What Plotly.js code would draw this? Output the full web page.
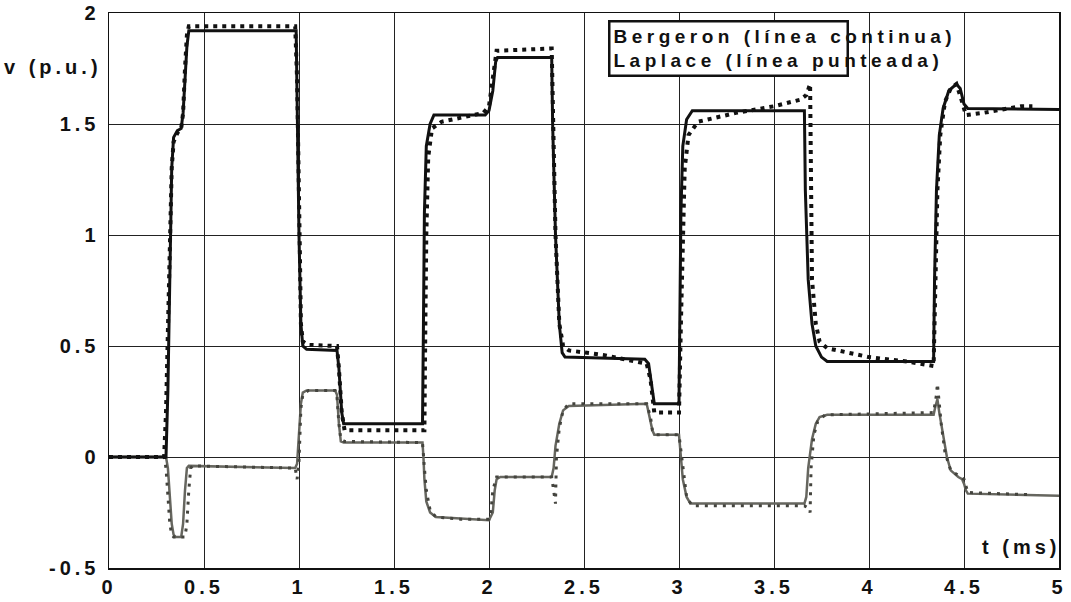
<!DOCTYPE html>
<html>
<head>
<meta charset="utf-8">
<script src="https://cdn.plot.ly/plotly-3.0.1.min.js"></script>
<style>
  html, body { margin: 0; padding: 0; background: #fff; }
  #chart { width: 1071px; height: 602px; }
  .main-svg text { letter-spacing: 4px; }
  .main-svg g.annotation[data-index="2"] text { letter-spacing: 4.5px; }
</style>
</head>
<body>
<div id="chart"></div>
<script>
// Bergeron, upper node (black solid)
const bergeronA_t = [0,0.30,0.31,0.32,0.33,0.34,0.36,0.38,0.39,0.41,0.42,0.985,0.99,1.0,1.01,1.02,1.04,1.20,1.21,1.225,1.235,1.65,1.655,1.66,1.67,1.69,1.71,1.98,2.00,2.02,2.035,2.045,2.33,2.335,2.35,2.37,2.385,2.40,2.82,2.84,2.86,2.87,3.0,3.005,3.01,3.02,3.04,3.07,3.66,3.665,3.68,3.70,3.72,3.75,3.78,4.34,4.345,4.355,4.37,4.39,4.42,4.46,4.48,4.50,4.52,5.0];
const bergeronA_v = [0,0,0.3,0.9,1.3,1.44,1.47,1.48,1.55,1.85,1.92,1.92,1.6,1.0,0.6,0.50,0.485,0.48,0.4,0.2,0.15,0.15,0.6,1.1,1.4,1.5,1.54,1.54,1.56,1.65,1.78,1.80,1.80,1.5,1.0,0.6,0.47,0.45,0.44,0.42,0.3,0.24,0.24,0.6,1.1,1.4,1.52,1.56,1.56,1.2,0.8,0.6,0.5,0.45,0.43,0.43,0.8,1.2,1.45,1.57,1.65,1.68,1.66,1.59,1.57,1.565];

// Laplace, upper node (black dotted)
const laplaceA_t = [0,0.29,0.30,0.31,0.32,0.33,0.34,0.36,0.38,0.39,0.40,0.41,0.42,0.98,0.99,1.0,1.005,1.01,1.02,1.05,1.20,1.21,1.225,1.24,1.66,1.665,1.67,1.68,1.70,1.75,1.85,1.97,2.0,2.02,2.04,2.33,2.34,2.35,2.37,2.39,2.42,2.60,2.83,2.85,2.87,3.0,3.01,3.02,3.03,3.05,3.1,3.3,3.5,3.64,3.67,3.69,3.695,3.70,3.72,3.74,3.78,4.0,4.20,4.34,4.35,4.36,4.375,4.40,4.43,4.46,4.49,4.51,4.6,4.8,4.86];
const laplaceA_v = [0,0,0.2,0.6,1.0,1.3,1.42,1.46,1.48,1.55,1.75,1.9,1.94,1.94,1.7,1.3,0.9,0.6,0.52,0.505,0.50,0.4,0.2,0.12,0.12,0.6,1.0,1.35,1.48,1.51,1.53,1.55,1.58,1.70,1.83,1.84,1.5,1.0,0.6,0.50,0.48,0.46,0.42,0.35,0.20,0.20,0.6,1.0,1.3,1.45,1.51,1.55,1.58,1.61,1.63,1.68,1.2,0.8,0.6,0.52,0.49,0.45,0.43,0.41,0.8,1.2,1.45,1.6,1.66,1.68,1.6,1.54,1.55,1.58,1.58];

// Bergeron, lower node (grey solid)
const bergeronB_t = [0,0.30,0.31,0.32,0.33,0.34,0.35,0.38,0.39,0.40,0.41,0.42,0.98,0.99,1.0,1.01,1.02,1.04,1.19,1.20,1.21,1.22,1.235,1.65,1.655,1.66,1.67,1.69,1.72,1.8,2.0,2.02,2.03,2.04,2.06,2.33,2.34,2.35,2.37,2.39,2.42,2.83,2.84,2.86,2.87,3.0,3.01,3.02,3.04,3.06,3.66,3.67,3.68,3.70,3.72,3.74,3.78,4.34,4.35,4.36,4.37,4.39,4.41,4.43,4.47,4.49,4.50,4.51,4.52,5.0];
const bergeronB_v = [0,0,-0.05,-0.2,-0.3,-0.35,-0.36,-0.36,-0.3,-0.15,-0.05,-0.04,-0.05,-0.03,0.1,0.24,0.29,0.30,0.30,0.28,0.15,0.07,0.065,0.065,0.0,-0.1,-0.2,-0.25,-0.27,-0.275,-0.285,-0.25,-0.15,-0.10,-0.09,-0.09,-0.05,0.05,0.15,0.21,0.23,0.24,0.2,0.12,0.10,0.10,0.0,-0.10,-0.18,-0.21,-0.21,-0.18,-0.05,0.08,0.15,0.18,0.19,0.19,0.23,0.26,0.20,0.10,0.0,-0.06,-0.09,-0.10,-0.12,-0.15,-0.165,-0.175];

// Laplace, lower node (grey dotted)
const laplaceB_t = [0,0.29,0.30,0.31,0.32,0.33,0.34,0.40,0.41,0.42,0.43,0.44,0.98,0.99,1.0,1.005,1.01,1.02,1.05,1.19,1.20,1.21,1.22,1.24,1.65,1.66,1.67,1.69,1.72,1.85,2.0,2.01,2.02,2.04,2.33,2.34,2.35,2.355,2.37,2.39,2.42,2.83,2.85,2.86,2.88,3.0,3.02,3.04,3.07,3.66,3.68,3.69,3.695,3.71,3.73,3.77,4.34,4.355,4.36,4.38,4.40,4.43,4.5,4.52,4.86];
const laplaceB_v = [0,0,-0.05,-0.2,-0.3,-0.35,-0.36,-0.36,-0.3,-0.15,-0.05,-0.04,-0.05,-0.1,-0.02,0.1,0.22,0.28,0.30,0.30,0.27,0.15,0.08,0.07,0.065,-0.05,-0.15,-0.24,-0.27,-0.28,-0.28,-0.25,-0.15,-0.09,-0.09,-0.15,-0.21,0.0,0.13,0.21,0.24,0.24,0.18,0.12,0.10,0.10,-0.05,-0.18,-0.22,-0.22,-0.23,-0.25,-0.05,0.1,0.16,0.19,0.20,0.28,0.33,0.15,0.02,-0.06,-0.1,-0.16,-0.17];

const xTicks = [0,0.5,1,1.5,2,2.5,3,3.5,4,4.5,5];
const xTickLabels = ['0','0.5','1','1.5','2','2.5','3','3.5','4','4.5','5'];
const yTicks = [-0.5,0,0.5,1,1.5,2];
const yTickLabels = ['-0.5','0','0.5','1','1.5','2'];

const traces = [
  {x: bergeronB_t, y: bergeronB_v, mode: 'lines', line: {color: '#66665f', width: 2.5}, showlegend: false, hoverinfo: 'skip'},
  {x: laplaceB_t, y: laplaceB_v, mode: 'lines', line: {color: '#44443e', width: 3, dash: '3px,6px'}, showlegend: false, hoverinfo: 'skip'},
  {x: bergeronA_t, y: bergeronA_v, mode: 'lines', line: {color: '#111111', width: 3}, showlegend: false, hoverinfo: 'skip'},
  {x: laplaceA_t, y: laplaceA_v, mode: 'lines', line: {color: '#111111', width: 4, dash: '4px,5px'}, showlegend: false, hoverinfo: 'skip'}
];

const tickFont = {family: 'Liberation Sans, Arial, sans-serif', size: 20, color: '#111', weight: 'bold'};

const layout = {
  width: 1071, height: 602,
  margin: {l: 109, r: 12, t: 13, b: 34, pad: 0},
  paper_bgcolor: '#fff', plot_bgcolor: '#fff',
  showlegend: false,
  xaxis: {
    range: [0, 5], tickvals: xTicks, ticktext: xTickLabels,
    showgrid: true, gridcolor: '#222', gridwidth: 1, zeroline: false,
    showline: true, mirror: true, linecolor: '#111', linewidth: 1.5,
    ticks: '', tickfont: tickFont, fixedrange: true
  },
  yaxis: {
    range: [-0.5, 2], tickvals: yTicks, ticktext: yTickLabels,
    showgrid: true, gridcolor: '#222', gridwidth: 1, zeroline: false,
    showline: true, mirror: true, linecolor: '#111', linewidth: 1.5,
    ticks: '', tickfont: tickFont, ticklabelstandoff: 4, fixedrange: true
  },
  annotations: [
    {xref: 'paper', yref: 'y', x: -0.022, y: 1.755, xanchor: 'right', yanchor: 'middle',
     text: 'v (p.u.)', showarrow: false, font: tickFont},
    {xref: 'x', yref: 'y', x: 4.95, y: -0.405, xanchor: 'right', yanchor: 'middle',
     text: 't (ms)', showarrow: false, font: tickFont},
    {xref: 'x', yref: 'y', x: 2.625, y: 1.968, xanchor: 'left', yanchor: 'top', align: 'left',
     text: 'Bergeron (línea continua)<br>Laplace (línea punteada)', showarrow: false,
     font: {family: 'Liberation Sans, Arial, sans-serif', size: 19, color: '#111', weight: 'bold'},
     bgcolor: '#fff', bordercolor: '#111', borderwidth: 2.5, borderpad: 3}
  ]
};

Plotly.newPlot('chart', traces, layout, {staticPlot: true, displayModeBar: false});
</script>
</body>
</html>
